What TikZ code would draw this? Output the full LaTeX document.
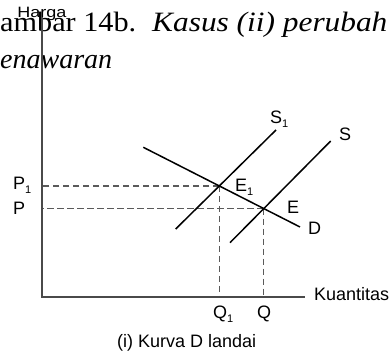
\documentclass[tikz,border=0pt]{standalone}
\usepackage{fontspec}
\setmainfont{Liberation Serif}
\newfontfamily\lab{Liberation Sans}
\usetikzlibrary{intersections}
\definecolor{axisgray}{HTML}{4A4A4A}
\definecolor{guidegray}{HTML}{5A5A5A}
\newcommand\lsub[1]{\raisebox{-0.35ex}{\fontsize{11}{11}\selectfont #1}}
\begin{document}
\begin{tikzpicture}[x=1pt,y=-1pt,
  curve/.style={line width=1.5pt,draw=black},
  axisline/.style={line width=1.3pt,draw=axisgray},
  guide/.style={line width=1.2pt,draw=guidegray,dash pattern=on 6.5pt off 3.5pt},
  lbl/.style={inner sep=0pt,font=\lab\fontsize{18}{18}\selectfont,anchor=base west},
  titletext/.style={inner sep=0pt,font=\fontsize{28}{28}\selectfont,anchor=base west}]
\useasboundingbox (0,0) rectangle (389,352);
% title
\node[titletext,xscale=1.08] (t1) at (0,32) {ambar 14b.};
\node[titletext,xscale=1.12] (t2) at (152,32) {\itshape Kasus (ii) perubah};
\node[titletext] (t3) at (0,69) {\itshape enawaran};
% axes points
\coordinate (O) at (42,297);
\coordinate (ytop) at (42,17);
\coordinate (xend) at (305,297);
% curves
\coordinate (Da) at (143.3,147.3);
\coordinate (Db) at (300,227);
\coordinate (S1a) at (175.7,229);
\coordinate (S1b) at (276,130);
\coordinate (Sa) at (230,242.7);
\coordinate (Sb) at (330.7,141);
\path[name path=Dp] (Da) -- (Db);
\path[name path=S1p] (S1a) -- (S1b);
\path[name path=Sp] (Sa) -- (Sb);
\path[name intersections={of=Dp and S1p,by=E1}];
\path[name intersections={of=Dp and Sp,by=E}];
% guides
\draw[guide] (E1) -- (O |- E1);
\draw[guide] (E) -- (O |- E);
\draw[guide] (E1) -- (E1 |- O);
\draw[guide] (E) -- (E |- O);
% curves drawn
\draw[curve] (Da) -- (Db);
\draw[curve] (S1a) -- (S1b);
\draw[curve] (Sa) -- (Sb);
% axes
\draw[axisline] (ytop) -- (O) -- (xend);
% labels
\node[inner sep=0pt,font=\lab\fontsize{15}{15}\selectfont,anchor=base,xscale=1.2] (harga) at (42,18) {Harga};
\node[lbl] (lS1) at (270,124) {S\lsub{1}};
\node[lbl] (lS) at (339,141) {S};
\node[lbl] (lE1) at (235,192) {E\lsub{1}};
\node[lbl] (lE) at (287,214) {E};
\node[lbl] (lD) at (308,235) {D};
\node[lbl] (lP1) at (13,190) {P\lsub{1}};
\node[lbl] (lP) at (13,215) {P};
\node[lbl] (lQ1) at (213,319) {Q\lsub{1}};
\node[lbl] (lQ) at (257,319) {Q};
\node[lbl] (lK) at (314,301) {Kuantitas};
\node[lbl] (cap) at (117,348) {(i) Kurva D landai};
\end{tikzpicture}
\end{document}
